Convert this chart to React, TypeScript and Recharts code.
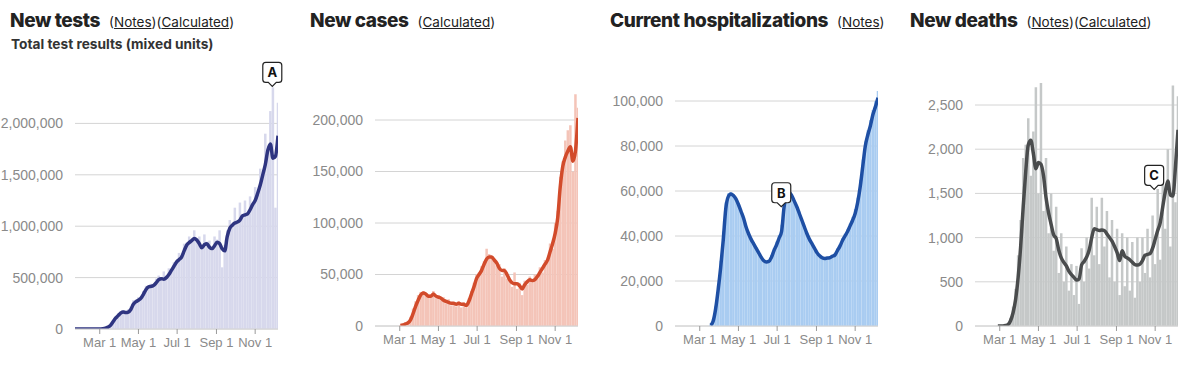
import React from "react";
import {
  ComposedChart,
  Bar,
  Line,
  XAxis,
  YAxis,
  CartesianGrid,
  ReferenceDot,
} from "recharts";

// day index, 0 = Jan 22 2020, one row every 4 days up to Dec 7
const days = [
  0, 4, 8, 12, 16, 20, 24, 28, 32, 36, 40, 44, 48, 52, 56, 60, 64, 68, 72, 76,
  80, 84, 88, 92, 96, 100, 104, 108, 112, 116, 120, 124, 128, 132, 136, 140,
  144, 148, 152, 156, 160, 164, 168, 172, 176, 180, 184, 188, 192, 196, 200,
  204, 208, 212, 216, 220, 224, 228, 232, 236, 240, 244, 248, 252, 256, 260,
  264, 268, 272, 276, 280, 284, 288, 292, 296, 300, 304, 308, 312, 316, 320,
];

const monthTicks = [39, 100, 161, 223, 284];
const monthLabels = ["Mar 1", "May 1", "Jul 1", "Sep 1", "Nov 1"];

const testsDaily = [
  0, 0, 0, 0, 0, 0, 0, 0, 0, 0,
  2000, 5000, 12000, 25000, 45000, 85000, 120000, 150000, 175000, 185000,
  170000, 190000, 220000, 280000, 270000, 310000, 300000, 370000, 420000, 400000,
  440000, 430000, 490000, 520000, 480000, 560000, 520000, 590000, 580000, 650000,
  660000, 740000, 700000, 830000, 840000, 900000, 870000, 960000, 880000, 900000,
  800000, 920000, 850000, 860000, 760000, 900000, 870000, 960000, 600000, 820000,
  960000, 1060000, 1010000, 1180000, 1040000, 1230000, 1100000, 1250000, 1120000, 1290000,
  1200000, 1380000, 1330000, 1560000, 1500000, 1900000, 1750000, 2120000, 2350000, 1180000,
  2200000,
];
const testsAvg = [
  0, 0, 0, 0, 0, 0, 0, 0, 0, 0,
  1000, 3000, 8000, 18000, 35000, 70000, 105000, 130000, 155000, 165000,
  160000, 165000, 190000, 240000, 265000, 280000, 300000, 340000, 385000, 410000,
  415000, 425000, 450000, 480000, 490000, 485000, 500000, 530000, 570000, 610000,
  650000, 675000, 700000, 760000, 815000, 840000, 860000, 880000, 865000, 830000,
  790000, 820000, 830000, 795000, 780000, 810000, 845000, 830000, 780000, 760000,
  900000, 980000, 1010000, 1030000, 1040000, 1060000, 1100000, 1110000, 1120000, 1160000,
  1210000, 1250000, 1320000, 1400000, 1500000, 1600000, 1740000, 1800000, 1660000, 1680000,
  1880000,
];

const casesDaily = [
  null, null, null, null, null, null, null, null, null, null,
  1000, 1500, 3000, 5000, 9000, 17000, 24000, 30000, 33000, 34000,
  29000, 31000, 28000, 34000, 27000, 30000, 25000, 28000, 22000, 26000,
  20000, 23000, 19000, 24000, 18000, 23000, 18000, 27000, 34000, 42000,
  50000, 52000, 58000, 63000, 75000, 70000, 68000, 66000, 59000, 60000,
  48000, 56000, 46000, 47000, 38000, 52000, 36000, 42000, 30000, 44000,
  40000, 48000, 42000, 50000, 46000, 57000, 52000, 64000, 62000, 80000,
  75000, 100000, 112000, 145000, 160000, 180000, 190000, 195000, 150000, 225000,
  212000,
];
const casesAvg = [
  null, null, null, null, null, null, null, null, null, null,
  500, 1000, 2000, 3000, 6000, 12000, 19000, 25000, 30000, 32000,
  31000, 29000, 29000, 31000, 29000, 28000, 27000, 25000, 24000, 23000,
  22000, 22000, 21000, 22000, 21000, 21000, 20000, 24000, 31000, 38000,
  46000, 50000, 54000, 60000, 65000, 67000, 67000, 64000, 61000, 56000,
  54000, 54000, 50000, 45000, 42000, 41000, 41000, 39000, 36000, 40000,
  43000, 45000, 44000, 45000, 48000, 52000, 56000, 60000, 64000, 72000,
  80000, 90000, 105000, 135000, 155000, 164000, 170000, 174000, 160000, 170000,
  202000,
];

const hospDaily = [
  null, null, null, null, null, null, null, null, null, null, null, null, null, null,
  500, 3000, 9000, 18000, 29000, 42000, 55000, 59000, 59500, 58500,
  57000, 54500, 51500, 48500, 44500, 41500, 39000, 37000, 35000, 33000,
  31000, 29500, 29000, 29500, 31500, 34500, 37500, 40500, 45000, 55000,
  59500, 60000, 58500, 56000, 53500, 50500, 47500, 44500, 41500, 39000,
  37000, 35000, 33000, 31500, 30500, 30300, 30600, 30800, 31500, 32500,
  34500, 36500, 39000, 41000, 43000, 45500, 48500, 52000, 57000, 65000,
  74000, 82000, 87000, 91500, 96000, 100000, 104500,
];
const hospAvg = [
  null, null, null, null, null, null, null, null, null, null, null, null, null, null,
  300, 2000, 7500, 16000, 26000, 38000, 52000, 57500, 58700, 58000,
  56500, 54000, 51000, 48000, 44000, 41000, 38500, 36500, 34500, 32500,
  30500, 29000, 28500, 28700, 30500, 33500, 36000, 39000, 42000, 53000,
  58500, 59500, 58000, 55500, 53000, 50000, 47000, 44000, 41000, 38500,
  36500, 34500, 32500, 31200, 30300, 30000, 30200, 30300, 31000, 31500,
  33500, 35500, 38000, 40000, 42000, 44500, 47000, 50000, 55000, 62000,
  71000, 80000, 85000, 89000, 94000, 97500, 101500,
];

const deathsDaily = [
  null, null, null, null, null, null, null, null, null,
  1, 2, 3, 8, 25, 90, 220, 420, 800, 1200,
  1900, 2050, 2350, 1700, 2200, 2700, 1500, 2750, 1300, 1900,
  1050, 1500, 850, 1350, 600, 1050, 500, 900, 400, 700,
  350, 680, 250, 880, 500, 1000, 650, 1450, 800, 1350,
  700, 1450, 900, 1300, 550, 1200, 500, 1100, 350, 1050,
  450, 1000, 400, 950, 320, 1000, 500, 1000, 600, 1100,
  550, 1250, 700, 1550, 750, 1800, 1100, 2000, 900, 2720,
  1400, 2600,
];
const deathsAvg = [
  null, null, null, null, null, null, null, null, null,
  0, 0, 1, 5, 15, 60, 150, 300, 550, 900,
  1350, 1750, 2050, 2100, 1950, 1780, 1850, 1830, 1700, 1450,
  1280, 1150, 1030, 990, 860, 770, 720, 680, 620, 580,
  550, 520, 530, 690, 730, 780, 860, 1000, 1100, 1090,
  1080, 1085, 1080, 1040, 1000, 960, 900, 830, 740, 850,
  790, 770, 750, 720, 695, 690, 700, 740, 800, 810,
  820, 880, 980, 1080, 1170, 1350, 1520, 1640, 1480, 1470,
  1800, 2220,
];

const panels = [
  {
    title: "New tests",
    links: ["Notes", "Calculated"],
    subtitle: "Total test results (mixed units)",
    daily: testsDaily,
    avg: testsAvg,
    max: 2500000,
    ticks: [0, 500000, 1000000, 1500000, 2000000],
    top: 72,
    bottom: 13,
    bar: "#d7d8ec",
    line: "#2f3581",
    mark: { day: 311, value: 2360000, label: "A" },
  },
  {
    title: "New cases",
    links: ["Calculated"],
    daily: casesDaily,
    avg: casesAvg,
    max: 250000,
    ticks: [0, 50000, 100000, 150000, 200000],
    top: 68.5,
    bottom: 16,
    bar: "#f4c4b8",
    line: "#d24b2b",
  },
  {
    title: "Current hospitalizations",
    links: ["Notes"],
    daily: hospDaily,
    avg: hospAvg,
    max: 120000,
    ticks: [0, 20000, 40000, 60000, 80000, 100000],
    top: 56,
    bottom: 16,
    bar: "#a9ccf1",
    line: "#1e4fa4",
    mark: { day: 167.5, value: 53000, label: "B" },
  },
  {
    title: "New deaths",
    links: ["Notes", "Calculated"],
    daily: deathsDaily,
    avg: deathsAvg,
    max: 3000,
    ticks: [0, 500, 1000, 1500, 2000, 2500],
    top: 60.8,
    bottom: 16,
    bar: "#c5c8c8",
    line: "#4a4c4d",
    mark: { day: 282.4, value: 1546, label: "C" },
  },
];

function Callout({ cx, cy, label }: { cx: number; cy: number; label: string }) {
  const w = 19;
  const h = 20;
  const l = cx - w / 2;
  const r = cx + w / 2;
  const b = cy - 4;
  const t = b - h;
  const d = `M${l + 3},${t} H${r - 3} Q${r},${t} ${r},${t + 3} V${b - 3} Q${r},${b} ${r - 3},${b} H${cx + 4} L${cx},${cy} L${cx - 4},${b} H${l + 3} Q${l},${b} ${l},${b - 3} V${t + 3} Q${l},${t} ${l + 3},${t} Z`;
  return (
    <g>
      <path d={d} fill="#fff" stroke="#222" strokeWidth={1.2} />
      <text x={cx} y={t + 15} textAnchor="middle" fontSize={13} fontWeight={700} fill="#111" fontFamily="Inter, sans-serif">
        {label}
      </text>
    </g>
  );
}

function Panel({ cfg, left }: { cfg: any; left: number }) {
  const rows = days.map((d, i) => ({ day: d, daily: cfg.daily[i], avg: cfg.avg[i] }));
  const xTick = { fill: "#8a8a8a", fontSize: 13, fontFamily: "'Liberation Sans', Arial, sans-serif" };
  const yTick = { fill: "#8a8a8a", fontSize: 14, fontFamily: "'Liberation Sans', Arial, sans-serif" };
  return (
    <div style={{ position: "absolute", left, top: 0, width: 300, height: 372 }}>
      <ComposedChart
        width={300}
        height={372}
        data={rows}
        margin={{ top: cfg.top, right: 22, bottom: cfg.bottom, left: 0 }}
      >
        <XAxis
          dataKey="day"
          type="number"
          domain={[0, 320]}
          ticks={monthTicks}
          interval={0}
          allowDataOverflow
          height={30}
          tickSize={5}
          tickMargin={4}
          axisLine={{ stroke: "#d4d4d4" }}
          tickLine={{ stroke: "#9a9a9a" }}
          tick={xTick}
          tickFormatter={(v: number) => monthLabels[monthTicks.indexOf(v)]}
        />
        <YAxis
          type="number"
          domain={[0, cfg.max]}
          ticks={cfg.ticks}
          interval={0}
          allowDataOverflow
          width={75}
          tickSize={0}
          tickMargin={12}
          axisLine={false}
          tickLine={false}
          tick={yTick}
          tickFormatter={(v: number) => v.toLocaleString("en-US")}
        />
        <Bar dataKey="daily" fill={cfg.bar} barSize={2.5} isAnimationActive={false} />
        <CartesianGrid vertical={false} stroke="#d4d4d4" syncWithTicks />
        <Line
          dataKey="avg"
          type="monotone"
          stroke={cfg.line}
          strokeWidth={3.5}
          dot={false}
          activeDot={false}
          isAnimationActive={false}
        />
        {cfg.mark && (
          <ReferenceDot
            x={cfg.mark.day}
            y={cfg.mark.value}
            ifOverflow="visible"
            shape={(p: any) => <Callout cx={p.cx} cy={p.cy} label={cfg.mark.label} />}
          />
        )}
      </ComposedChart>
      <div
        style={{
          position: "absolute",
          left: 10,
          top: 10,
          whiteSpace: "nowrap",
          lineHeight: "22px",
          color: "#222",
        }}
      >
        <span style={{ fontSize: 19, fontWeight: 800, letterSpacing: -0.4 }}>{cfg.title}</span>
        <span style={{ fontSize: 13.5, marginLeft: 9, color: "#222" }}>
          {cfg.links.map((l: string) => (
            <span key={l}>
              (<span style={{ textDecoration: "underline" }}>{l}</span>)
            </span>
          ))}
        </span>
      </div>
      {cfg.subtitle && (
        <div
          style={{
            position: "absolute",
            left: 11,
            top: 36,
            fontSize: 13.7,
            fontWeight: 700,
            lineHeight: "16px",
            color: "#333",
            whiteSpace: "nowrap",
          }}
        >
          {cfg.subtitle}
        </div>
      )}
    </div>
  );
}

export default function App() {
  return (
    <div
      style={{
        position: "absolute",
        left: 0,
        top: 0,
        width: 1200,
        height: 372,
        background: "#fff",
        fontFamily: "Inter, sans-serif",
      }}
    >
      {panels.map((p, i) => (
        <Panel key={p.title} cfg={p} left={i * 300} />
      ))}
    </div>
  );
}
